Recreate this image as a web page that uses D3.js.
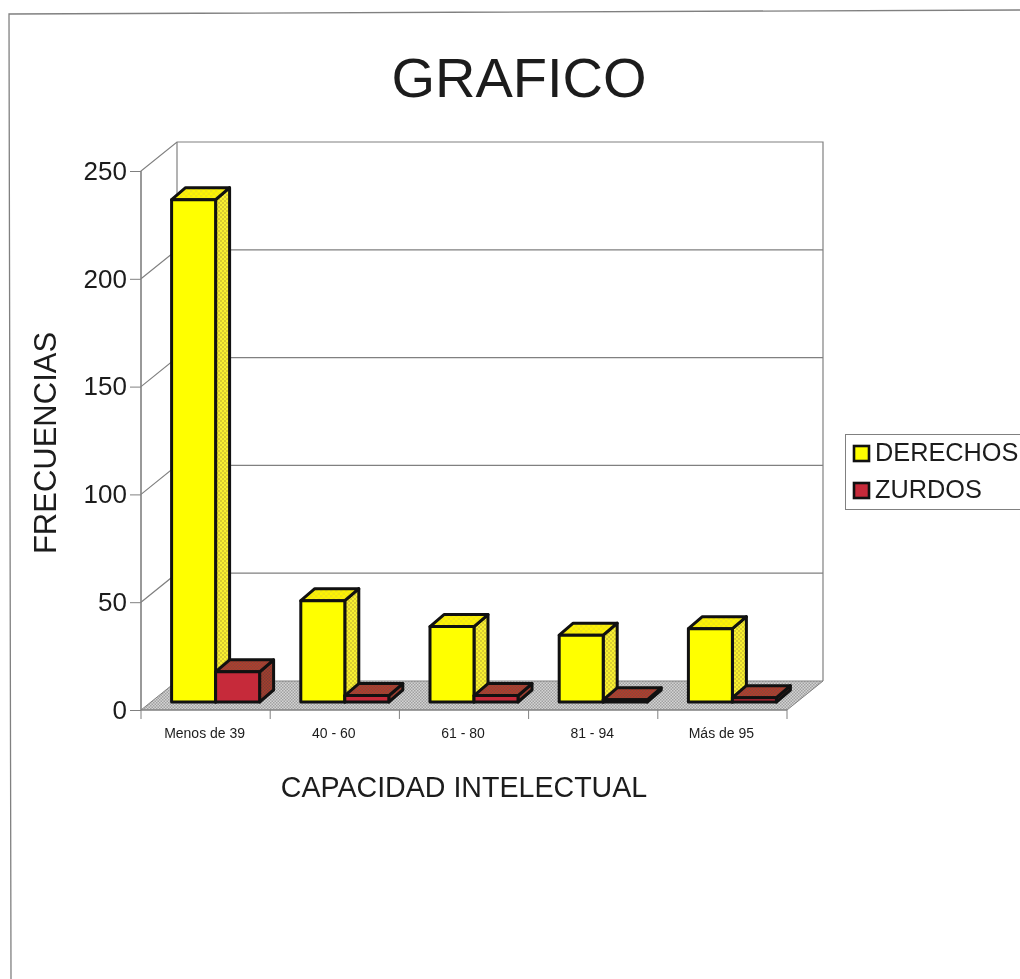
<!DOCTYPE html>
<html>
<head>
<meta charset="utf-8">
<script src="https://cdnjs.cloudflare.com/ajax/libs/d3/7.8.5/d3.min.js"></script>
<style>
    html, body { margin: 0; padding: 0; background: #fff; overflow: hidden; }
    svg { filter: blur(0.45px); }
    text { font-family: "Liberation Sans", Arial, sans-serif; fill: #1c1c1c; }
</style>
</head>
<body>
<div id="chart"></div>
<script>
// Values
const categories = ["Menos de 39", "40 - 60", "61 - 80", "81 - 94", "Más de 95"];
const seriesNames = ["DERECHOS", "ZURDOS"];
const derechos = [233, 47, 35, 31, 34];
const zurdos = [14, 3, 3, 1, 2];
const yTicks = [0, 50, 100, 150, 200, 250];

const chart_width = 1020;
const chart_height = 979;

const svg = d3.select("#chart").append("svg")
    .attr("width", chart_width)
    .attr("height", chart_height);

// Outer frame of the sheet (slightly skewed, it was scanned)
svg.append("path")
    .attr("d", "M11,979L9,14L1020,10")
    .attr("fill", "none")
    .attr("stroke", "#808080")
    .attr("stroke-width", 1.3);

// Fill patterns for the floor and the bar sides
const defs = svg.append("defs");
function dotted(id, bg, fg, size) {
    const p = defs.append("pattern")
        .attr("id", id)
        .attr("width", size).attr("height", size)
        .attr("patternUnits", "userSpaceOnUse");
    p.append("rect").attr("width", size).attr("height", size).attr("fill", bg);
    p.append("rect").attr("width", size / 2).attr("height", size / 2).attr("fill", fg);
    p.append("rect").attr("x", size / 2).attr("y", size / 2)
        .attr("width", size / 2).attr("height", size / 2).attr("fill", fg);
}
dotted("floorFill", "#d4d4d4", "#a0a0a0", 3);
dotted("yellowSide", "#f8f030", "#d8cc30", 4);
dotted("yellowTop", "#fff400", "#efe418", 5);
dotted("redSide", "#a83a30", "#7c4030", 3);
dotted("redTop", "#b8382c", "#8a4a38", 3);

// Scales
const y = d3.scaleLinear().domain([0, 250]).range([710, 171]);
const x = d3.scaleBand().domain(categories).range([141, 787]);
const xInner = d3.scaleBand().domain(seriesNames)
    .range([0, x.bandwidth()])
    .paddingOuter(0.468)
    .paddingInner(0);

// 3D offsets
const wallDx = 36, wallDy = -29;      // floor depth
const barOffX = 10, barOffY = -8;     // bars stand a little into the floor
const barDx = 14, barDy = -12;        // bar depth

const x0 = x.range()[0], x1 = x.range()[1];
const wall = "#808080";

// Floor
svg.append("path")
    .attr("d", d3.line()([
        [x0, y(0)], [x1, y(0)],
        [x1 + wallDx, y(0) + wallDy], [x0 + wallDx, y(0) + wallDy]
    ]) + "Z")
    .attr("fill", "url(#floorFill)")
    .attr("stroke", wall);

// Back wall outline, side wall and gridlines
const walls = svg.append("g").attr("fill", "none").attr("stroke", wall).attr("stroke-width", 1.2);
walls.append("path").attr("d", d3.line()([
    [x0, y(0)], [x0, y(250)], [x0 + wallDx, y(250) + wallDy],
    [x1 + wallDx, y(250) + wallDy], [x1 + wallDx, y(0) + wallDy]
]));
walls.append("path").attr("d", d3.line()([
    [x0 + wallDx, y(250) + wallDy], [x0 + wallDx, y(0) + wallDy]
]));
walls.selectAll(".grid")
    .data(yTicks.filter(d => d > 0 && d < 250))
    .enter().append("path")
    .attr("class", "grid")
    .attr("d", d => d3.line()([
        [x0, y(d)], [x0 + wallDx, y(d) + wallDy], [x1 + wallDx, y(d) + wallDy]
    ]));

// Axes
const yAxis = d3.axisLeft(y).tickValues(yTicks).tickSize(11).tickPadding(3);
const yG = svg.append("g").attr("transform", "translate(" + x0 + ",0)").call(yAxis);
yG.select(".domain").attr("stroke", wall).attr("d", "M0," + y(250) + "V" + y(0));
yG.selectAll(".tick line").attr("stroke", wall);
yG.selectAll(".tick text")
    .style("font-size", "26px")
    .attr("fill", "#1c1c1c")
    .attr("x", -14);

const xAxis = d3.axisBottom(x).tickSize(0).tickPadding(18);
const xG = svg.append("g").attr("transform", "translate(0," + y(0) + ")").call(xAxis);
xG.select(".domain").attr("stroke", wall).attr("d", "M" + x0 + ",0H" + x1);
xG.selectAll(".tick text")
    .style("font-size", "14px")
    .attr("fill", "#222")
    .attr("x", -1);
xG.selectAll(".sep")
    .data(d3.range(categories.length + 1))
    .enter().append("line")
    .attr("class", "sep")
    .attr("x1", d => x0 + d * x.bandwidth())
    .attr("x2", d => x0 + d * x.bandwidth())
    .attr("y1", 0).attr("y2", 9)
    .attr("stroke", wall);

// Bars
const bars = [];
categories.forEach(function (c, i) {
    bars.push({ cat: c, name: "DERECHOS", value: derechos[i] });
    bars.push({ cat: c, name: "ZURDOS", value: zurdos[i] });
});
const fills = {
    DERECHOS: { front: "#ffff00", side: "url(#yellowSide)", top: "url(#yellowTop)" },
    ZURDOS: { front: "#c62a3a", side: "url(#redSide)", top: "url(#redTop)" }
};

const barG = svg.append("g")
    .attr("stroke", "#111")
    .attr("stroke-width", 3)
    .attr("stroke-linejoin", "round");

const bar = barG.selectAll("g")
    .data(bars)
    .enter().append("g");

function corners(d) {
    const l = x(d.cat) + xInner(d.name) + barOffX;
    const r = l + xInner.bandwidth();
    const b = y(0) + barOffY;
    const t = y(d.value) + barOffY;
    return { l: l, r: r, b: b, t: t };
}

bar.append("path")
    .attr("fill", d => fills[d.name].side)
    .attr("d", function (d) {
        const c = corners(d);
        return d3.line()([[c.r, c.t], [c.r + barDx, c.t + barDy], [c.r + barDx, c.b + barDy], [c.r, c.b]]) + "Z";
    });
bar.append("path")
    .attr("fill", d => fills[d.name].top)
    .attr("d", function (d) {
        const c = corners(d);
        return d3.line()([[c.l, c.t], [c.l + barDx, c.t + barDy], [c.r + barDx, c.t + barDy], [c.r, c.t]]) + "Z";
    });
bar.append("rect")
    .attr("fill", d => fills[d.name].front)
    .attr("x", d => corners(d).l)
    .attr("y", d => corners(d).t)
    .attr("width", xInner.bandwidth())
    .attr("height", d => corners(d).b - corners(d).t);

// Titles
svg.append("text")
    .attr("x", 519).attr("y", 97)
    .attr("text-anchor", "middle")
    .style("font-size", "56px")
    .text("GRAFICO");

svg.append("text")
    .attr("x", 464).attr("y", 797)
    .attr("text-anchor", "middle")
    .style("font-size", "28.6px")
    .text("CAPACIDAD INTELECTUAL");

svg.append("text")
    .attr("transform", "translate(56,443) rotate(-90)")
    .attr("text-anchor", "middle")
    .style("font-size", "31px")
    .text("FRECUENCIAS");

// Legend
svg.append("rect")
    .attr("x", 845.5).attr("y", 434.5)
    .attr("width", 190).attr("height", 75)
    .attr("fill", "#fff")
    .attr("stroke", "#808080");

const legend = svg.selectAll(".legend")
    .data(seriesNames)
    .enter().append("g")
    .attr("class", "legend")
    .attr("transform", (d, i) => "translate(854," + (446 + i * 37) + ")");
legend.append("rect")
    .attr("width", 15).attr("height", 15)
    .attr("fill", d => fills[d].front)
    .attr("stroke", "#111")
    .attr("stroke-width", 2.6);
legend.append("text")
    .attr("x", 21).attr("y", 15)
    .style("font-size", "25.3px")
    .text(d => d);
</script>
</body>
</html>
